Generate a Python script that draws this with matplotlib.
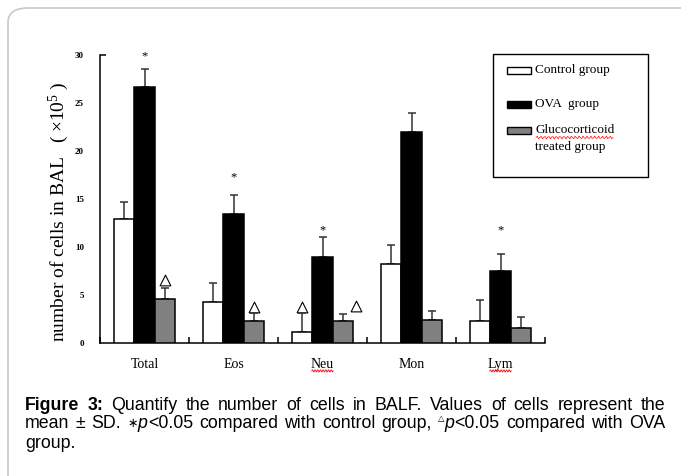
import matplotlib
matplotlib.use("Agg")
import matplotlib.pyplot as plt
import numpy as np
from matplotlib.patches import Rectangle, FancyBboxPatch

# ---------------- data ----------------
categories = ["Total", "Eos", "Neu", "Mon", "Lym"]
series_names = ["Control group", "OVA  group", "Glucocorticoid\ntreated group"]
control_mean = [12.9, 4.2, 1.1, 8.2, 2.3]
control_sd = [1.8, 2.0, 2.0, 2.0, 2.2]
ova_mean = [26.7, 13.4, 8.9, 22.0, 7.5]
ova_sd = [1.8, 2.0, 2.1, 2.0, 1.8]
gluco_mean = [4.6, 2.3, 2.3, 2.4, 1.5]
gluco_sd = [1.1, 0.8, 0.7, 0.9, 1.2]
# significance marks: (category index, series index, x shift in bar widths, y value)
star_marks = [(0, 1, 0.0, 29.9), (1, 1, 0.0, 17.2), (2, 1, 0.0, 11.7), (4, 1, 0.0, 11.7)]
tri_marks = [(0, 2, 0.0, 6.5), (1, 2, 0.0, 3.75), (2, 0, 0.0, 3.75),
             (2, 2, 0.65, 3.8), (3, 0, 0.5, 3.7)]
yticks = [0, 5, 10, 15, 20, 25, 30]

plt.rcParams["mathtext.fontset"] = "custom"
plt.rcParams["mathtext.rm"] = "Liberation Serif"
plt.rcParams["mathtext.it"] = "Liberation Serif:italic"
plt.rcParams["mathtext.bf"] = "Liberation Serif:bold"

W, H = 681, 476
fig = plt.figure(figsize=(W / 100, H / 100), dpi=100)
fig.patch.set_facecolor("white")


def fx(px):
    return px / W


def fy(py):
    return 1 - py / H


# outer rounded frame
frame = FancyBboxPatch((8 / W, 1 - 700 / H), 900 / W, 692 / H,
                       boxstyle="round,pad=0,rounding_size=0.03",
                       transform=fig.transFigure, fill=False,
                       edgecolor="#c8c8c8", linewidth=1.2)
fig.patches.append(frame)

serif = "Liberation Serif"

ax = fig.add_axes([100 / W, 1 - 342.7 / H, (545 - 100) / W, (342.7 - 55) / H])
ax.set_facecolor("none")
x = np.arange(len(categories))
w = 0.225
means = [control_mean, ova_mean, gluco_mean]
sds = [control_sd, ova_sd, gluco_sd]
colors = ["white", "black", "#808080"]
for i, (m, s, c) in enumerate(zip(means, sds, colors)):
    xs = x + (i - 1) * w
    ax.bar(xs, m, width=w, color=c, edgecolor="black", linewidth=1.1, zorder=3)
    ax.errorbar(xs, m, yerr=[np.zeros(len(m)), s], fmt="none", ecolor="#333333",
                elinewidth=1.1, capsize=2.8, capthick=1.1, zorder=2)

for ci, si, dx, yv in star_marks:
    ax.text(x[ci] + (si - 1 + dx) * w, yv, "*", ha="center", va="center",
            fontsize=9, family=serif, zorder=4)
for ci, si, dx, yv in tri_marks:
    ax.scatter([x[ci] + (si - 1 + dx) * w], [yv], marker="^", s=60,
               facecolor="white", edgecolor="black", linewidth=0.8, zorder=1)

ax.set_xlim(-0.5, len(categories) - 0.5)
ax.set_ylim(0, 30)
for sp in ["top", "right"]:
    ax.spines[sp].set_visible(False)
for sp in ["left", "bottom"]:
    ax.spines[sp].set_linewidth(1.1)
ax.set_yticks(yticks)
ax.set_yticklabels([str(t) for t in yticks], family=serif, fontsize=6.5, fontweight="bold")
ax.tick_params(axis="y", length=0, pad=11.5)
ax.yaxis.remove_overlapping_locs = False
ax.set_yticks([30], minor=True)
ax.tick_params(axis="y", which="minor", direction="in", length=4, width=1.1)
ax.set_xticks(np.arange(len(categories) + 1) - 0.5)
ax.set_xticklabels([])
ax.tick_params(axis="x", direction="in", length=4, width=1.1)
ax.set_xticks(x, minor=True)
ax.set_xticklabels(categories, minor=True, family=serif, fontsize=10)
ax.tick_params(axis="x", which="minor", length=0, pad=11)

ax.set_ylabel("number of cells in BAL   (\u2009\u00d710$^5$\u2009)", family=serif,
              fontsize=14, labelpad=2)
ax.yaxis.set_label_coords(-0.065, 0.455)

# red spell-check squiggles under Neu and Lym
for ci in [2, 4]:
    xx = np.linspace(x[ci] - 0.12, x[ci] + 0.12, 40)
    yy = -0.098 + 0.004 * np.sin(np.linspace(0, 16 * np.pi, 40))
    ax.plot(xx, yy, color="red", lw=0.6, transform=ax.get_xaxis_transform(),
            clip_on=False)

# legend box (figure pixel coords)
fig.patches.append(Rectangle((fx(493), fy(177)), fx(648) - fx(493), fy(54) - fy(177),
                             transform=fig.transFigure, fill=False, edgecolor="black",
                             linewidth=1.0))
leg_y = [70, 104, 130]
for (ly, name, c) in zip(leg_y, series_names, colors):
    fig.patches.append(Rectangle((fx(507), fy(ly + 3.5)), fx(531) - fx(507), 7 / H,
                                 transform=fig.transFigure, facecolor=c,
                                 edgecolor="black", linewidth=1.0))
    for k, line in enumerate(name.split("\n")):
        fig.text(fx(535), fy(ly + 17 * k), line, family=serif, fontsize=9.5,
                 va="center", ha="left")
xx = np.linspace(fx(536), fx(613), 60)
fig.lines.append(plt.Line2D(xx, fy(137.5) + 0.003 * np.sin(np.linspace(0, 40 * np.pi, 60)),
                            transform=fig.transFigure, color="red", lw=0.5))

# caption with justified lines; each word is a list of (text, style) pieces
sans = ["Liberation Sans", "DejaVu Sans"]
N = {}
B = {"fontweight": "bold"}
I = {"style": "italic"}
S = {"fontsize": 6, "dy": -4}
A = {"fontsize": 9}
cap_lines = [
    [[("Figure", B)], [("3:", B)], [("Quantify", N)], [("the", N)], [("number", N)],
     [("of", N)], [("cells", N)], [("in", N)], [("BALF.", N)], [("Values", N)],
     [("of", N)], [("cells", N)], [("represent", N)], [("the", N)]],
    [[("mean", N)], [("\u00b1", N)], [("SD.", N)],
     [("\u2217", A), ("p", I), ("<0.05", N)], [("compared", N)], [("with", N)],
     [("control", N)], [("group,", N)], [("\u25b3", S), ("p", I), ("<0.05", N)],
     [("compared", N)], [("with", N)], [("OVA", N)]],
    [[("group.", N)]],
]
cap_y = [405, 424, 443]
x0, x1 = 25, 665
fig.canvas.draw()
renderer = fig.canvas.get_renderer()
for li, (words, yy) in enumerate(zip(cap_lines, cap_y)):
    placed = []
    wtot = 0
    for word in words:
        pieces = []
        ww = 0
        for txt, st in word:
            st = dict(st)
            dy = st.pop("dy", 0)
            fs = st.pop("fontsize", 12.8)
            o = fig.text(0, fy(yy + dy), txt, family=sans, fontsize=fs,
                         va="center", ha="left", **st)
            pw = o.get_window_extent(renderer).width
            pieces.append((o, ww))
            ww += pw
        placed.append((pieces, ww))
        wtot += ww
    if li < len(cap_lines) - 1:
        gap = (x1 - x0 - wtot) / (len(words) - 1)
    else:
        gap = 4
    cx = x0
    for pieces, ww in placed:
        for o, off in pieces:
            o.set_x(fx(cx + off))
        cx += ww + gap

fig.savefig("out.png", dpi=100, facecolor="white")
